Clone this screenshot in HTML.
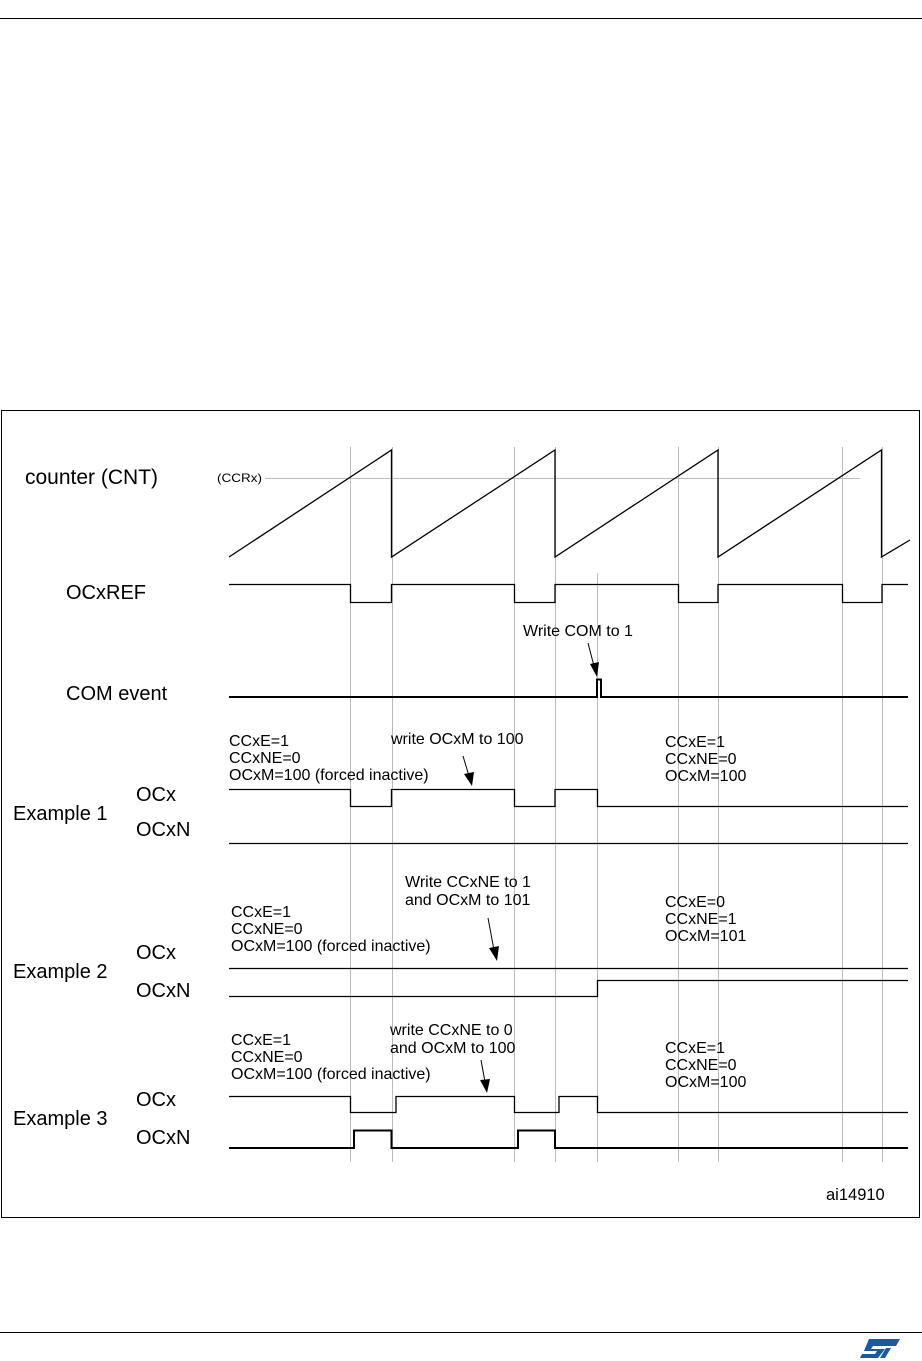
<!DOCTYPE html>
<html><head><meta charset="utf-8"><style>
html,body{margin:0;padding:0;background:#fff;}
svg{display:block;}
text{font-family:"Liberation Sans",Arial,sans-serif;fill:#000;}
</style></head><body>
<svg width="922" height="1361" viewBox="0 0 922 1361" xmlns="http://www.w3.org/2000/svg">
<line x1="0" y1="18.5" x2="922" y2="18.5" stroke="#000" stroke-width="1"/>
<line x1="0" y1="1332.5" x2="922" y2="1332.5" stroke="#000" stroke-width="1"/>
<rect x="1.5" y="410.5" width="918" height="807" fill="none" stroke="#000" stroke-width="1"/>
<g stroke="#bbb" stroke-width="1">
<line x1="350.5" y1="447" x2="350.5" y2="1162"/>
<line x1="392.5" y1="447" x2="392.5" y2="1162"/>
<line x1="514.5" y1="447" x2="514.5" y2="1162"/>
<line x1="555.5" y1="447" x2="555.5" y2="1162"/>
<line x1="597.5" y1="573" x2="597.5" y2="1162"/>
<line x1="678.5" y1="447" x2="678.5" y2="1162"/>
<line x1="718.5" y1="447" x2="718.5" y2="1162"/>
<line x1="842.5" y1="447" x2="842.5" y2="1162"/>
<line x1="882.5" y1="447" x2="882.5" y2="1162"/>
<line x1="265" y1="478.5" x2="860" y2="478.5"/>
</g>
<text x="25" y="484" font-size="21">counter (CNT)</text>
<text x="217" y="482" font-size="12" textLength="45" lengthAdjust="spacingAndGlyphs">(CCRx)</text>
<text x="66" y="599" font-size="20">OCxREF</text>
<text x="66" y="700" font-size="20">COM event</text>
<g fill="none" stroke="#000" stroke-width="1.3">
<polyline points="229,557 391.5,450 391.5,557 555,450 555,557 718,450 718,557 881.5,450 881.5,557 910,540"/>
<polyline points="229,584.5 350.5,584.5 350.5,602.5 391.5,602.5 391.5,584.5 514.5,584.5 514.5,602.5 555,602.5 555,584.5 678.5,584.5 678.5,602.5 718,602.5 718,584.5 842.5,584.5 842.5,602.5 882,602.5 882,584.5 908,584.5"/>
<polyline points="229,789.5 350.5,789.5 350.5,806.5 391.5,806.5 391.5,789.5 514.5,789.5 514.5,806.5 555,806.5 555,789.5 597.5,789.5 597.5,806.5 908,806.5"/>
<line x1="229" y1="843.5" x2="908" y2="843.5"/>
<line x1="229" y1="968.5" x2="908" y2="968.5"/>
<polyline points="229,996.5 597.5,996.5 597.5,980.5 908,980.5"/>
<polyline points="229,1096.5 350.5,1096.5 350.5,1112.5 396,1112.5 396,1096.5 514.5,1096.5 514.5,1112.5 559,1112.5 559,1096.5 597.5,1096.5 597.5,1112.5 908,1112.5"/>
</g>
<g fill="none" stroke="#000" stroke-width="2">
<polyline points="229,697 597,697 597,679.5 601,679.5 601,697 908,697"/>
<polyline points="229,1148 354,1148 354,1130.5 391.5,1130.5 391.5,1148 518,1148 518,1130.5 555,1130.5 555,1148 908,1148"/>
</g>
<g stroke="#000" stroke-width="1">
<line x1="588" y1="643" x2="594" y2="666"/>
<line x1="463" y1="756" x2="469" y2="776"/>
<line x1="488" y1="918" x2="494" y2="950"/>
<line x1="481" y1="1060" x2="485" y2="1082"/>
</g>
<g fill="#000">
<polygon points="597,677 590,664 599,662"/>
<polygon points="472,786 464,774 474,772"/>
<polygon points="497,961 489,948 499,946"/>
<polygon points="487,1093 480,1080 490,1079"/>
</g>
<g font-size="16">
<text x="523" y="636">Write COM to 1</text>
<text x="229" y="746">CCxE=1</text>
<text x="229" y="763">CCxNE=0</text>
<text x="229" y="780">OCxM=100 (forced inactive)</text>
<text x="391" y="744">write OCxM to 100</text>
<text x="665" y="747">CCxE=1</text>
<text x="665" y="764">CCxNE=0</text>
<text x="665" y="781">OCxM=100</text>
<text x="136" y="801" font-size="20">OCx</text>
<text x="136" y="836" font-size="20">OCxN</text>
<text x="13" y="820" font-size="20">Example 1</text>
<text x="405" y="887">Write CCxNE to 1</text>
<text x="405" y="905">and OCxM to 101</text>
<text x="231" y="917">CCxE=1</text>
<text x="231" y="934">CCxNE=0</text>
<text x="231" y="951">OCxM=100 (forced inactive)</text>
<text x="665" y="907">CCxE=0</text>
<text x="665" y="924">CCxNE=1</text>
<text x="665" y="941">OCxM=101</text>
<text x="136" y="959" font-size="20">OCx</text>
<text x="136" y="997" font-size="20">OCxN</text>
<text x="13" y="978" font-size="20">Example 2</text>
<text x="390" y="1035">write CCxNE to 0</text>
<text x="390" y="1053">and OCxM to 100</text>
<text x="231" y="1045">CCxE=1</text>
<text x="231" y="1062">CCxNE=0</text>
<text x="231" y="1079">OCxM=100 (forced inactive)</text>
<text x="665" y="1053">CCxE=1</text>
<text x="665" y="1070">CCxNE=0</text>
<text x="665" y="1087">OCxM=100</text>
<text x="136" y="1106" font-size="20">OCx</text>
<text x="136" y="1144" font-size="20">OCxN</text>
<text x="13" y="1125" font-size="20">Example 3</text>
<text x="826" y="1200" font-size="16.5">ai14910</text>
</g>
<g fill="#1a5aa0">
<polygon points="869,1339 900,1339 896,1346 873,1346 871,1349 885,1349 878,1358 860,1358 862,1354 875,1354 877,1351 864,1351"/>
<polygon points="886,1348 891,1348 885,1358 880,1358"/>
</g>
</svg>
</body></html>
